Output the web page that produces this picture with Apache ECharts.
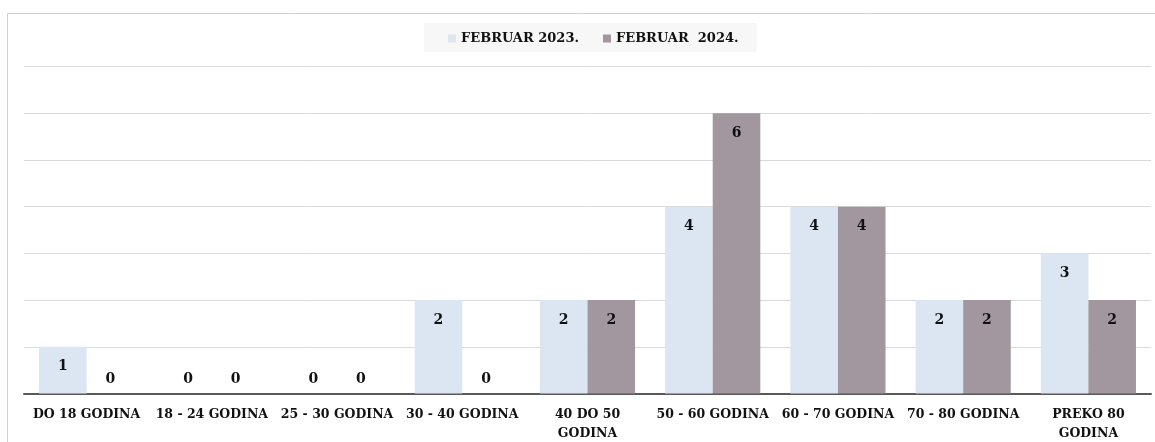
<!DOCTYPE html>
<html>
<head>
<meta charset="utf-8">
<script src="https://cdn.jsdelivr.net/npm/echarts@6/dist/echarts.min.js"></script>
<style>
  html, body { margin: 0; padding: 0; background: #fff; }
  #chart { width: 1155px; height: 442px; }
</style>
</head>
<body>
<div id="chart"></div>
<script>
// age groups
var categories = ['DO 18 GODINA', '18 - 24 GODINA', '25 - 30 GODINA', '30 - 40 GODINA',
  '40 DO 50\nGODINA', '50 - 60 GODINA', '60 - 70 GODINA', '70 - 80 GODINA', 'PREKO 80\nGODINA'];
var feb2023 = [1, 0, 0, 2, 2, 4, 4, 2, 3];
var feb2024 = [0, 0, 0, 0, 2, 6, 4, 2, 2];
var seriesNames = ['FEBRUAR 2023.', 'FEBRUAR  2024.'];

var font = 'DejaVu Serif';
var txtColor = '#111';

// zero bars get their label above the axis, others inside the top of the bar
function toItems(arr) {
  return arr.map(function (v) {
    if (v === 0) return { value: v, label: { position: 'top', distance: 7 } };
    return v;
  });
}

var chart = echarts.init(document.getElementById('chart'));
chart.setOption({
  animation: false,
  textStyle: { fontFamily: font },
  graphic: [{
    type: 'rect',
    shape: { x: 7.5, y: 13.5, width: 1160, height: 440 },
    style: { fill: 'none', stroke: '#d0d0d0', lineWidth: 1 },
    silent: true
  }],
  legend: {
    top: 23,
    left: 424,
    icon: 'rect',
    itemWidth: 8,
    itemHeight: 8,
    itemGap: 24,
    backgroundColor: '#f7f7f7',
    padding: [9, 18, 7, 24],
    textStyle: { fontFamily: font, fontWeight: 'bold', fontSize: 13, color: txtColor }
  },
  grid: {
    left: 24,
    right: 4,
    top: 66.5,
    bottom: 48.5,
    outerBoundsMode: 'none'
  },
  xAxis: {
    type: 'category',
    data: categories,
    axisTick: { show: false },
    axisLine: { lineStyle: { color: '#595959', width: 2 } },
    axisLabel: {
      interval: 0,
      margin: 12,
      lineHeight: 19,
      fontFamily: font,
      fontWeight: 'bold',
      fontSize: 12.5,
      color: txtColor
    }
  },
  yAxis: {
    type: 'value',
    min: 0,
    max: 7,
    interval: 1,
    axisLabel: { show: false },
    axisLine: { show: false },
    axisTick: { show: false },
    splitLine: { lineStyle: { color: '#d9d9d9' } }
  },
  series: [
    {
      name: seriesNames[0],
      type: 'bar',
      data: toItems(feb2023),
      barGap: '0%',
      barCategoryGap: '24%',
      itemStyle: { color: '#dce6f2' },
      label: {
        show: true,
        position: 'insideTop',
        distance: 13,
        fontFamily: font,
        fontWeight: 'bold',
        fontSize: 14,
        color: txtColor
      }
    },
    {
      name: seriesNames[1],
      type: 'bar',
      data: toItems(feb2024),
      barGap: '0%',
      barCategoryGap: '24%',
      itemStyle: { color: '#a3979f' },
      label: {
        show: true,
        position: 'insideTop',
        distance: 13,
        fontFamily: font,
        fontWeight: 'bold',
        fontSize: 14,
        color: txtColor
      }
    }
  ]
});
</script>
</body>
</html>
